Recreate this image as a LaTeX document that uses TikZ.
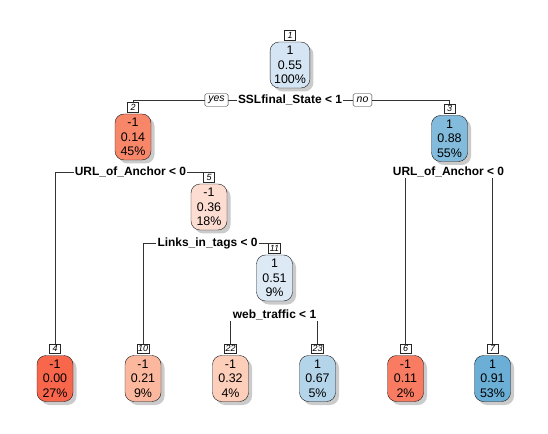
\documentclass[tikz,border=0pt]{standalone}
\usepackage{fontspec}
\setmainfont{Liberation Sans}
\usetikzlibrary{positioning, shadows}

\definecolor{c1}{HTML}{D5E5F4}
\definecolor{c2}{HTML}{F8876A}
\definecolor{c3}{HTML}{82BBDB}
\definecolor{c4}{HTML}{F8664C}
\definecolor{c5}{HTML}{FDDDD1}
\definecolor{c6}{HTML}{F97C62}
\definecolor{c7}{HTML}{6BAED6}
\definecolor{c10}{HTML}{FCB89E}
\definecolor{c11}{HTML}{DDEAF6}
\definecolor{c22}{HTML}{FDCEBA}
\definecolor{c23}{HTML}{B4D4E9}

\begin{document}
\begin{tikzpicture}[x=1bp, y=-1bp,
    box/.style={draw=black!90, rounded corners=9bp, align=center, minimum width=36bp,
        minimum height=46bp, inner xsep=4bp, font=\fontsize{12.5}{14.5}\selectfont,
        drop shadow={shadow xshift=3.5bp, shadow yshift=-3.5bp, fill=black!40}},
    tag/.style={draw=black!85, fill=white, font=\fontsize{9}{9}\selectfont\itshape,
        inner sep=1.2bp, minimum height=9.5bp, minimum width=11bp},
    split/.style={font=\fontsize{12}{14}\selectfont\bfseries, inner sep=1bp},
    answer/.style={draw=black!85, fill=white, rounded corners=1.5bp,
        font=\fontsize{10.5}{10.5}\selectfont\itshape, inner xsep=3.5bp, inner ysep=1bp, minimum height=12.5bp},
    branch/.style={draw=black!80, line width=0.6bp}]
    \fill[white] (0,0) rectangle (548,434);
    \useasboundingbox (0,0) rectangle (548,434);
    % inner nodes
    \node[box, fill=c1] (n1) at (290,65) {1\\0.55\\100\%};
    \node[box, fill=c2] (n2) at (133,137) {-1\\0.14\\45\%};
    \node[box, fill=c3] (n3) at (449.5,138.5) {1\\0.88\\55\%};
    \node[box, fill=c5] (n5) at (209,207) {-1\\0.36\\18\%};
    \node[box, fill=c11] (n11) at (274.5,278) {1\\0.51\\9\%};
    % leaves
    \node[box, fill=c4] (n4) at (55,378.5) {-1\\0.00\\27\%};
    \node[box, fill=c10] (n10) at (143,378.5) {-1\\0.21\\9\%};
    \node[box, fill=c22] (n22) at (230.5,378.5) {-1\\0.32\\4\%};
    \node[box, fill=c23] (n23) at (317.5,378.5) {1\\0.67\\5\%};
    \node[box, fill=c6] (n6) at (405.5,378.5) {-1\\0.11\\2\%};
    \node[box, fill=c7] (n7) at (492.5,378.5) {1\\0.91\\53\%};
    % node numbers
    \foreach \k in {1,2,3,4,5,6,7,10,11,22,23}
        \node[tag, above=1.5bp of n\k] (l\k) {\k};
    % split labels
    \node[split] (s1) at (290,100) {SSLfinal\_State < 1};
    \node[answer] (yes) at (216.5,100) {yes};
    \node[answer] (no) at (362.5,100) {no};
    \node[split] (s2) at (130.5,172) {URL\_of\_Anchor < 0};
    \node[split] (s3) at (448.5,172) {URL\_of\_Anchor < 0};
    \node[split] (s5) at (207.5,243) {Links\_in\_tags < 0};
    \node[split] (s11) at (274.5,315) {web\_traffic < 1};
    % branches
    \draw[branch] (yes.east) -- (s1.west);
    \draw[branch] (s1.east) -- (no.west);
    \draw[branch] (yes.west) -| (l2.north);
    \draw[branch] (no.east) -| (l3.north);
    \draw[branch] (s2.west) -| (l4.north);
    \draw[branch] (s2.east) -| (l5.north);
    \draw[branch] (s3.south -| l6.north) -- (l6.north);
    \draw[branch] (s3.south -| l7.north) -- (l7.north);
    \draw[branch] (s5.west) -| (l10.north);
    \draw[branch] (s5.east) -| (l11.north);
    \draw[branch] (s11.south -| l22.north) -- (l22.north);
    \draw[branch] (s11.south -| l23.north) -- (l23.north);
\end{tikzpicture}
\end{document}
